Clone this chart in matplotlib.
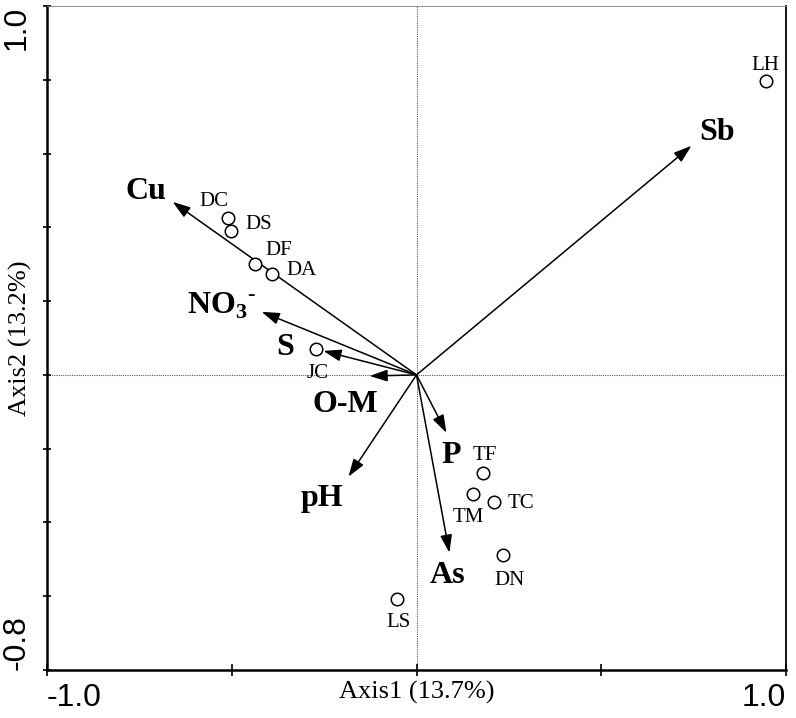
import numpy as np
import matplotlib
matplotlib.use('Agg')
import matplotlib.pyplot as plt

plt.rcParams['mathtext.fontset'] = 'custom'
plt.rcParams['mathtext.rm'] = 'Liberation Serif'
plt.rcParams['mathtext.bf'] = 'Liberation Serif:bold'

# environmental variables (arrow tips)
env_names = ['Cu', 'NO$_\\mathbf{3}$$^\\mathbf{\u2010}$', 'S', 'O-M', 'pH', 'P', 'As', 'Sb']
env_x = [-0.660, -0.419, -0.252, -0.127, -0.184, 0.081, 0.089, 0.744]
env_y = [0.469, 0.171, 0.065, -0.003, -0.276, -0.157, -0.482, 0.621]

# sampling sites
site_names = ['LH', 'DC', 'DS', 'DF', 'DA', 'JC', 'TF', 'TM', 'TC', 'DN', 'LS']
site_x = [0.947, -0.511, -0.501, -0.438, -0.390, -0.273, 0.181, 0.152, 0.211, 0.233, -0.054]
site_y = [0.797, 0.425, 0.390, 0.301, 0.274, 0.070, -0.266, -0.322, -0.344, -0.488, -0.607]

xlab = 'Axis1 (13.7%)'
ylab = 'Axis2 (13.2%)'

# label offsets in pixels (dx, dy up)
env_off = {'Cu': (-27, 3), 'NO': (-40, -2), 'S': (-38, -4), 'O-M': (-24, -36),
           'pH': (-27, -29), 'P': (5, -30), 'As': (-2, -30), 'Sb': (26, 6)}
site_off = {'LH': (-1, 11), 'DC': (-14, 12), 'DS': (27, 2), 'DF': (24, 9),
            'DA': (29, -1), 'JC': (2, -29), 'TF': (1, 13), 'TM': (-4, -28),
            'TC': (26, -6), 'DN': (7, -30), 'LS': (2, -28)}

fig = plt.figure(figsize=(7.96, 7.18), dpi=100)
ax = fig.add_axes([47/796, 48/718, 739/796, 664/718])
ax.set_xlim(-1.0, 1.0)
ax.set_ylim(-0.8, 1.0)

ax.axhline(0, color='0.35', lw=0.8, ls=(0, (1, 1)), zorder=1)
ax.axvline(0, color='0.35', lw=0.8, ls=(0, (1, 1)), zorder=1)

px = 0.72  # pixel -> point at 100 dpi
for name, x, y in zip(env_names, env_x, env_y):
    ax.annotate('', xy=(x, y), xytext=(0, 0),
                arrowprops=dict(arrowstyle='-|>,head_length=0.6,head_width=0.2',
                                mutation_scale=18, color='black', lw=1.1,
                                shrinkA=0, shrinkB=0))
    key = 'NO' if name.startswith('NO') else name
    dx, dy = env_off[key]
    ax.annotate(name, xy=(x, y), xytext=(dx*px, dy*px), textcoords='offset points',
                ha='center', va='baseline', fontsize=23, fontweight='bold',
                family='Liberation Serif')

ax.plot(site_x, site_y, 'o', mfc='white', mec='black', ms=9, mew=1.1, zorder=3)
for name, x, y in zip(site_names, site_x, site_y):
    dx, dy = site_off[name]
    ax.annotate(name, xy=(x, y), xytext=(dx*px, dy*px), textcoords='offset points',
                ha='center', va='baseline', fontsize=15, family='Liberation Serif')

ax.set_xticks([-1.0, -0.5, 0, 0.5, 1.0])
ax.set_xticklabels(['-1.0', '', '', '', '1.0'])
yt = np.round(np.arange(-0.8, 1.01, 0.2), 1)
ax.set_yticks(yt)
ax.set_yticklabels(['-0.8'] + ['']*(len(yt)-2) + ['1.0'])
ax.tick_params(axis='x', direction='inout', length=8, width=1.2, pad=5, labelsize=23)
ax.tick_params(axis='y', direction='inout', length=6, width=1.2, pad=8, labelsize=23,
               labelrotation=90)
for t in ax.get_xticklabels() + ax.get_yticklabels():
    t.set_family('Liberation Sans')
xl = ax.get_xticklabels()
xl[0].set_ha('left')
xl[-1].set_ha('right')
yl = ax.get_yticklabels()
yl[0].set_va('bottom')
yl[-1].set_va('top')

ax.set_xlabel(xlab, fontsize=19, family='Liberation Serif')
ax.set_ylabel(ylab, fontsize=19, family='Liberation Serif')
ax.xaxis.set_label_coords(0.5, -0.017)
ax.yaxis.set_label_coords(-0.02, 0.5)

ax.spines['left'].set_linewidth(1.8)
ax.spines['bottom'].set_linewidth(1.8)
ax.spines['right'].set_linewidth(1.3)
ax.spines['top'].set_linewidth(0.6)
ax.spines['top'].set_color('0.5')

fig.savefig('out.png', dpi=100)
